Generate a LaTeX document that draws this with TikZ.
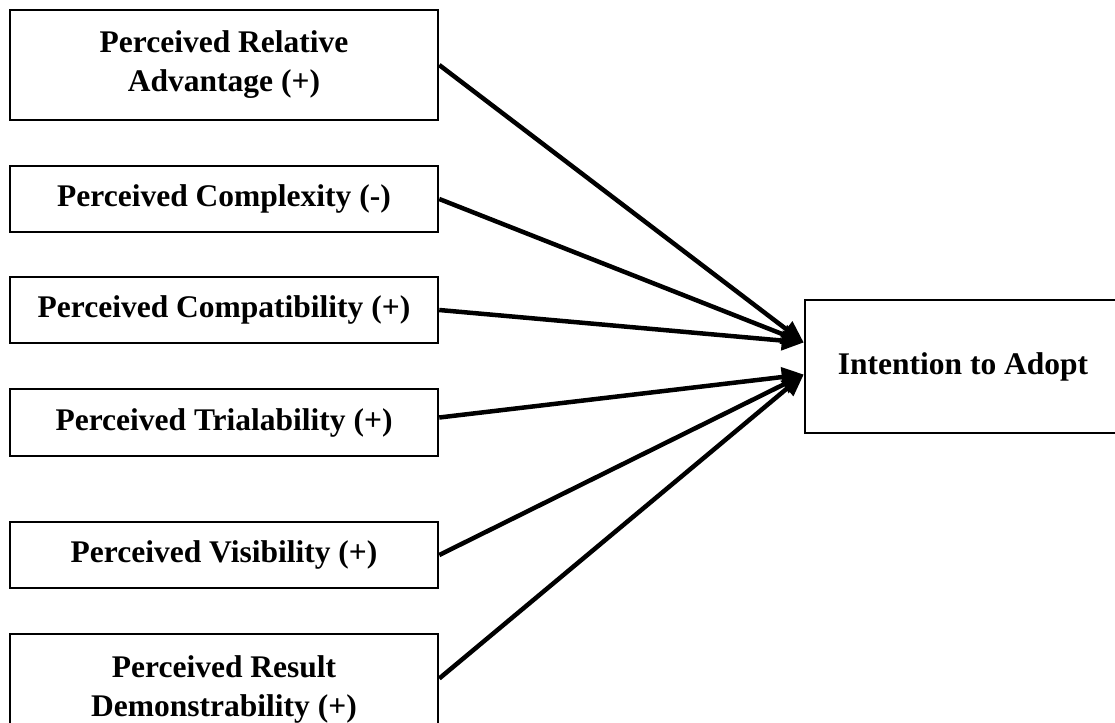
\documentclass[tikz,border=0pt]{standalone}
\usepackage{fontspec}
\setmainfont{Liberation Serif}
\usetikzlibrary{arrows.meta}

\begin{document}
\begin{tikzpicture}[x=1pt, y=-1pt,
  factor/.style={draw, line width=2.5pt, minimum width=428pt, inner sep=0pt, align=center,
    font=\bfseries\fontsize{31.5}{39}\selectfont},
  effect/.style={line width=4.5pt, -{Triangle[length=22pt,width=19pt]}}]
\useasboundingbox (0,0) rectangle (1115,722);
\clip (0,0) rectangle (1115,722);

\node[factor, minimum height=110pt] (PRA) at (224,65)    {Perceived Relative\\Advantage (+)};
\node[factor, minimum height=66pt]  (PCX) at (224,199)   {Perceived Complexity (-)};
\node[factor, minimum height=66pt]  (PCP) at (224,310)   {Perceived Compatibility (+)};
\node[factor, minimum height=67pt]  (PT)  at (224,422.5) {Perceived Trialability (+)};
\node[factor, minimum height=66pt]  (PV)  at (224,555)   {Perceived Visibility (+)};
\node[factor, minimum height=111pt] (PRD) at (224,689.5) {Perceived Result\\Demonstrability (+)};

\node[factor, minimum width=325pt, minimum height=133pt] (IA) at (967.5,366.5) {};
\node[font=\bfseries\fontsize{31.5}{39}\selectfont, inner sep=0pt] (IAtext) at (963,366.5) {Intention to Adopt};

\draw[effect] (PRA.east) -- ([yshift=24pt]IA.west);
\draw[effect] (PCX.east) -- ([yshift=24pt]IA.west);
\draw[effect] (PCP.east) -- ([yshift=24pt]IA.west);

\draw[effect] ([yshift=5pt]PT.east) -- ([yshift=-8pt]IA.west);
\draw[effect] (PV.east) -- ([yshift=-8pt]IA.west);
\draw[effect] ([yshift=11pt]PRD.east) -- ([yshift=-8pt]IA.west);
\end{tikzpicture}
\end{document}
